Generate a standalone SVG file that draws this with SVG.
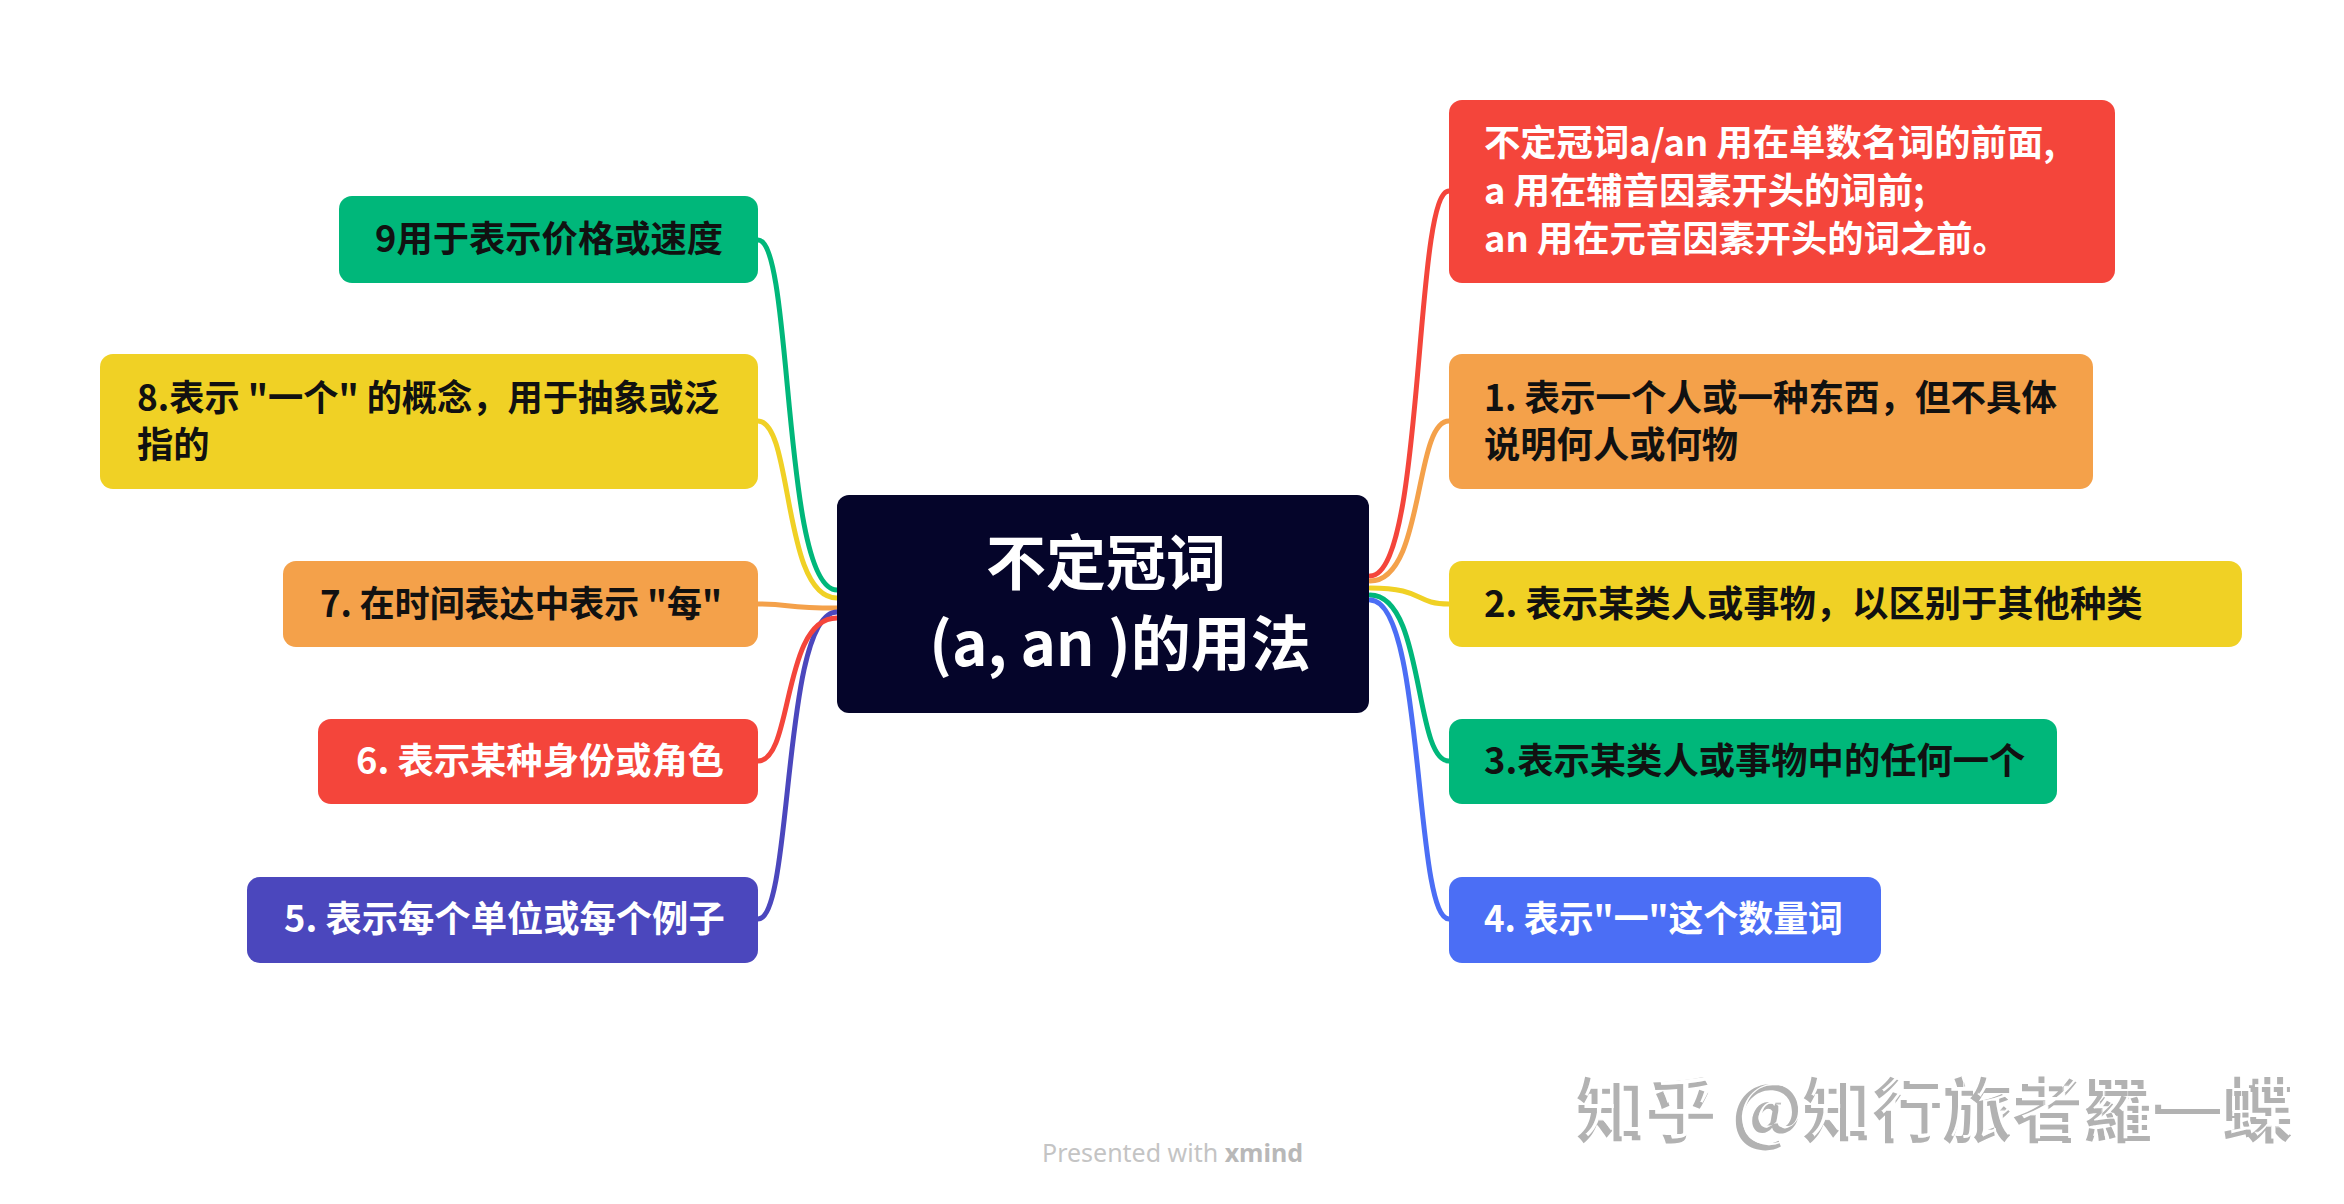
<svg xmlns="http://www.w3.org/2000/svg" width="2344" height="1204" viewBox="0 0 2344 1204">
<style>
.bg{fill:#ffffff}
.t{font-family:"Noto Sans CJK SC","Noto Sans",sans-serif;font-weight:700;font-size:36.3px}
.w{fill:#ffffff}
.k{fill:#111111}
.c{fill:none;stroke-width:5;stroke-linecap:round}
.ct{font-family:"Noto Sans CJK SC","Noto Sans",sans-serif;font-weight:700;font-size:60px;fill:#ffffff;text-anchor:middle}
.wm{font-family:"Noto Sans CJK SC",sans-serif;font-weight:700;font-size:70px}
</style>
<defs>
<filter id="emboss" x="-5%" y="-30%" width="110%" height="160%">
<feMorphology in="SourceAlpha" operator="erode" radius="1.5" result="er"/>
<feOffset in="er" dx="4" dy="-3" result="eo"/>
<feFlood flood-color="#ffffff"/>
<feComposite in2="eo" operator="in" result="wh"/>
<feMerge><feMergeNode in="SourceGraphic"/><feMergeNode in="wh"/></feMerge>
</filter>
</defs>
<rect class="bg" x="0" y="0" width="2344" height="1204"/>
<g id="connectors">
<path class="c" stroke="#00B77A" d="M837,590 C781.7,590 793.5,240 758,240"/>
<path class="c" stroke="#F0D125" d="M837,598 C781.7,598 793.5,421 758,421"/>
<path class="c" stroke="#F4A14A" d="M837,608 C781.7,608 793.5,604 758,604"/>
<path class="c" stroke="#4B47BD" d="M837,612 C781.7,612 793.5,919 758,919"/>
<path class="c" stroke="#F4453B" d="M837,618 C781.7,618 793.5,761 758,761"/>
<path class="c" stroke="#F4453B" d="M1370,576 C1425,576 1413.5,191 1449,191"/>
<path class="c" stroke="#F4A14A" d="M1370,581 C1425,581 1413.5,421 1449,421"/>
<path class="c" stroke="#F0D125" d="M1370,588 C1425,588 1413.5,604 1449,604"/>
<path class="c" stroke="#00B77A" d="M1370,595 C1425,595 1413.5,761 1449,761"/>
<path class="c" stroke="#4B6EF5" d="M1370,600 C1425,600 1413.5,919 1449,919"/>
</g>
<g id="center">
<rect x="837" y="495" width="532" height="218" rx="12" fill="#05052A"/>
<text class="ct" x="1106" y="585">不定冠词</text>
<text class="ct" x="1120" y="666">(a, an )的用法</text>
</g>
<g id="node-intro">
<rect x="1449" y="100" width="666" height="183" rx="13" fill="#F4453B"/>
<text class="t w" x="1484" y="156">不定冠词a/an 用在单数名词的前面,</text>
<text class="t w" x="1484" y="204">a 用在辅音因素开头的词前;</text>
<text class="t w" x="1484" y="252">an 用在元音因素开头的词之前。</text>
</g>
<g id="node-1">
<rect x="1449" y="354" width="644" height="135" rx="13" fill="#F4A14A"/>
<text class="t k" x="1484" y="411" textLength="573" lengthAdjust="spacingAndGlyphs">1. 表示一个人或一种东西，但不具体</text>
<text class="t k" x="1484" y="458">说明何人或何物</text>
</g>
<g id="node-2">
<rect x="1449" y="561" width="793" height="86" rx="13" fill="#F0D125"/>
<text class="t k" x="1484" y="617">2. 表示某类人或事物，以区别于其他种类</text>
</g>
<g id="node-3">
<rect x="1449" y="719" width="608" height="85" rx="13" fill="#00B77A"/>
<text class="t k" x="1484" y="774">3.表示某类人或事物中的任何一个</text>
</g>
<g id="node-4">
<rect x="1449" y="877" width="432" height="86" rx="13" fill="#4B6EF5"/>
<text class="t w" x="1484" y="932" textLength="359" lengthAdjust="spacingAndGlyphs">4. 表示"一"这个数量词</text>
</g>
<g id="node-9">
<rect x="339" y="196" width="419" height="87" rx="13" fill="#00B77A"/>
<text class="t k" x="375" y="252">9用于表示价格或速度</text>
</g>
<g id="node-8">
<rect x="100" y="354" width="658" height="135" rx="13" fill="#F0D125"/>
<text class="t k" x="137" y="411" textLength="582" lengthAdjust="spacingAndGlyphs">8.表示 "一个" 的概念，用于抽象或泛</text>
<text class="t k" x="137" y="458">指的</text>
</g>
<g id="node-7">
<rect x="283" y="561" width="475" height="86" rx="13" fill="#F4A14A"/>
<text class="t k" x="320" y="617" textLength="402" lengthAdjust="spacingAndGlyphs">7. 在时间表达中表示 "每"</text>
</g>
<g id="node-6">
<rect x="318" y="719" width="440" height="85" rx="13" fill="#F4453B"/>
<text class="t w" x="356" y="774">6. 表示某种身份或角色</text>
</g>
<g id="node-5">
<rect x="247" y="877" width="511" height="86" rx="13" fill="#4B47BD"/>
<text class="t w" x="284" y="932">5. 表示每个单位或每个例子</text>
</g>
<g id="footer">
<text x="1042" y="1162" font-family="Noto Sans, sans-serif" font-size="25" fill="#c4c4c4">Presented with <tspan font-weight="700" fill="#b8b8b8">xmind</tspan></text>
<text class="wm" x="1576" y="1137" fill="#b2b2b2" filter="url(#emboss)">知乎 @知行旅者羅一蝶</text>
</g>
</svg>
